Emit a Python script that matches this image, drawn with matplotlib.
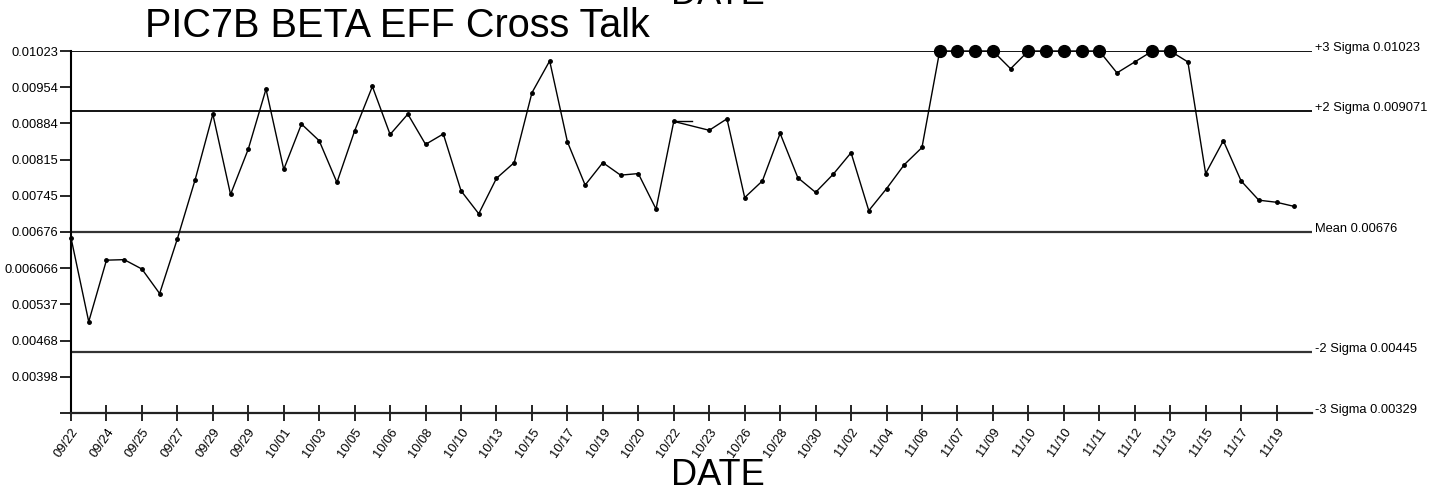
import numpy as np
import matplotlib
matplotlib.use("Agg")
import matplotlib.pyplot as plt

plt.rcParams['font.family'] = ['Liberation Sans', 'DejaVu Sans']

# control limits
limit_names = ["+3 Sigma", "+2 Sigma", "Mean", "-2 Sigma", "-3 Sigma"]
limit_values = [0.01023, 0.009071, 0.00676, 0.00445, 0.00329]
limit_labels = ["0.01023", "0.009071", "0.00676", "0.00445", "0.00329"]

# measurements, one per run (None = missing)
values = [0.00665, 0.00504, 0.00622, 0.00623, 0.00605, 0.00558, 0.00663, 0.00776,
          0.00902, 0.00748, 0.00835, 0.00950, 0.00796, 0.00883, 0.00851, 0.00771,
          0.00870, 0.00955, 0.00863, 0.00902, 0.00844, 0.00864, 0.00755, 0.00711,
          0.00779, 0.00809, 0.00943, 0.01004, 0.00849, 0.00766, 0.00809, 0.00785,
          0.00788, 0.00720, 0.00888, None, 0.00871, 0.00893, 0.00742, 0.00774,
          0.00865, 0.00780, 0.00752, 0.00787, 0.00828, 0.00717, 0.00759, 0.00805,
          0.00838, 0.01023, 0.01023, 0.01023, 0.01023, 0.00989, 0.01023, 0.01023,
          0.01023, 0.01023, 0.01023, 0.00981, 0.01002, 0.01023, 0.01023, 0.01002,
          0.00788, 0.00851, 0.00774, 0.00737, 0.00733, 0.00725]

date_labels = ["09/22", "09/24", "09/25", "09/27", "09/29", "09/29", "10/01", "10/03",
               "10/05", "10/06", "10/08", "10/10", "10/13", "10/15", "10/17", "10/19",
               "10/20", "10/22", "10/23", "10/26", "10/28", "10/30", "11/02", "11/04",
               "11/06", "11/07", "11/09", "11/10", "11/10", "11/11", "11/12", "11/13",
               "11/15", "11/17", "11/19"]

ytick_labels = ["", "0.00398", "0.00468", "0.00537", "0.006066", "0.00676",
                "0.00745", "0.00815", "0.00884", "0.00954", "0.01023"]

W, H = 1444, 496
fig = plt.figure(figsize=(W / 100, H / 100), dpi=100)
ax = fig.add_axes([71 / W, 1 - 413 / H, (1312 - 71) / W, (413 - 51) / H])

ucl = limit_values[0]
lcl = limit_values[-1]
n = len(values)

idx = np.array([i for i, v in enumerate(values) if v is not None])
vals = np.array([values[i] for i in idx])

ax.set_xlim(0, n)
ax.set_ylim(lcl, ucl)

# limit lines (the -3 sigma one is the bottom axis)
for name, val in zip(limit_names, limit_values):
    if val == lcl:
        continue
    grey = name in ("Mean", "-2 Sigma")
    ax.axhline(val, color='#333333' if grey else 'black', lw=1.6 if grey else 1.3, zorder=1)

for name, val, lab in zip(limit_names, limit_values, limit_labels):
    ax.annotate(f"{name} {lab}", xy=(1.0, val), xycoords=('axes fraction', 'data'),
                xytext=(2, 0), textcoords='offset points', fontsize=9.3,
                va='baseline', ha='left', annotation_clip=False)

# data line
ax.plot(idx, vals, color='black', lw=1.0, marker='o', ms=2.5, zorder=3, clip_on=False)
# short stub left by the missing run
miss = [i for i, v in enumerate(values) if v is None][0]
ax.plot([miss - 1, miss], [values[miss - 1], values[miss - 1]], color='black', lw=1.0, zorder=3)

# out-of-control points
ooc = vals >= ucl
ax.plot(idx[ooc], vals[ooc], 'o', color='black', ms=8.5, zorder=4, clip_on=False)

# axes styling
for s in ['top', 'right']:
    ax.spines[s].set_visible(False)
ax.spines['left'].set_linewidth(1.5)
ax.spines['bottom'].set_linewidth(1.6)
ax.spines['bottom'].set_color('#222222')

ax.set_yticks(np.linspace(lcl, ucl, len(ytick_labels)))
ax.set_yticklabels(ytick_labels)
ax.set_xticks(np.arange(0, n, 2)[:len(date_labels)])
ax.set_xticklabels(date_labels, rotation=55, ha='right', rotation_mode='anchor')
ax.tick_params(axis='y', direction='out', length=8, width=1.2, labelsize=9.3, pad=1)
ax.tick_params(axis='x', direction='inout', length=11, width=1.2, labelsize=9.3, pad=4)

# titles (the top "DATE" is cut off in the original too)
fig.text(145 / W, 1 - 36.7 / H, "PIC7B BETA EFF Cross Talk", fontsize=28.5,
         ha='left', va='baseline')
fig.text(718 / W, 1 - 485 / H, "DATE", fontsize=26, ha='center', va='baseline')
fig.text(718 / W, 1 - 4 / H, "DATE", fontsize=26, ha='center', va='baseline')

fig.savefig("out.png", dpi=100)
